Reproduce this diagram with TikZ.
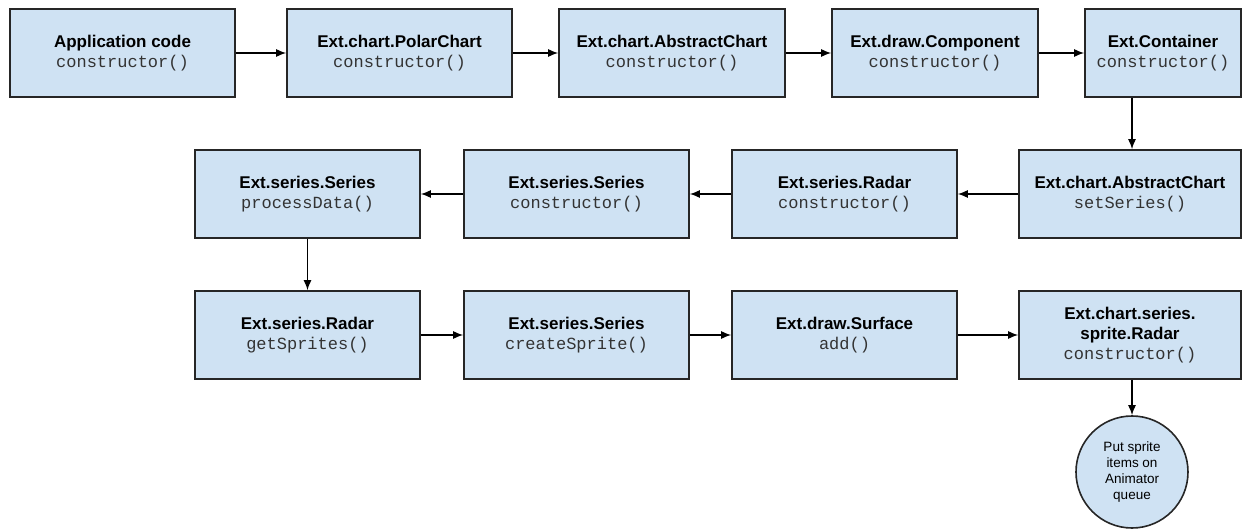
\documentclass[tikz,border=0pt]{standalone}
\usepackage{fontspec}
\setmainfont{Liberation Sans}
\setmonofont{Liberation Mono}
\usetikzlibrary{arrows.meta}
\definecolor{boxfill}{HTML}{CFE2F3}
\definecolor{monotext}{HTML}{333333}
\tikzset{
  box/.style={draw=black!85, line width=1.6pt, fill=boxfill, rectangle,
    minimum height=88pt, inner sep=2pt, align=center,
    font=\fontsize{17}{20}\selectfont\bfseries},
  circ/.style={draw=black!85, line width=1.6pt, fill=boxfill, circle,
    minimum size=112pt, inner sep=0pt, align=center,
    font=\fontsize{13.5}{16}\selectfont},
  arr/.style={line width=1.4pt, -{Latex[length=10pt,width=8pt]}}
}
\newcommand{\mtxt}[1]{{\mdseries\ttfamily\color{monotext}#1}}
\begin{document}
\begin{tikzpicture}[x=1pt,y=-1pt]
\useasboundingbox (0,0) rectangle (1243,529);
% row 1
\node[box, minimum width=225pt] (b1) at (122.5,53) {Application code\\\mtxt{constructor()}};
\node[box, minimum width=225pt] (b2) at (399.5,53) {Ext.chart.PolarChart\\\mtxt{constructor()}};
\node[box, minimum width=226pt] (b3) at (672,53) {Ext.chart.AbstractChart\\\mtxt{constructor()}};
\node[box, minimum width=206pt] (b4) at (935,53) {Ext.draw.Component\\\mtxt{constructor()}};
\node[box, minimum width=156pt] (b5) at (1163,53) {Ext.Container\\\mtxt{constructor()}};
% row 2
\node[box, minimum width=225pt] (c1) at (307.5,194) {Ext.series.Series\\\mtxt{processData()}};
\node[box, minimum width=225pt] (c2) at (576.5,194) {Ext.series.Series\\\mtxt{constructor()}};
\node[box, minimum width=225pt] (c3) at (844.5,194) {Ext.series.Radar\\\mtxt{constructor()}};
\node[box, minimum width=222pt] (c4) at (1130,194) {Ext.chart.AbstractChart\\\mtxt{setSeries()}};
% row 3
\node[box, minimum width=225pt] (d1) at (307.5,335) {Ext.series.Radar\\\mtxt{getSprites()}};
\node[box, minimum width=225pt] (d2) at (576.5,335) {Ext.series.Series\\\mtxt{createSprite()}};
\node[box, minimum width=225pt] (d3) at (844.5,335) {Ext.draw.Surface\\\mtxt{add()}};
\node[box, minimum width=222pt] (d4) at (1130,335) {Ext.chart.series.\\sprite.Radar\\\mtxt{constructor()}};
% circle
\node[circ] (q) at (1132,472) {Put sprite\\items on\\Animator\\queue};
% arrows
\draw[arr] (b1) -- (b2);
\draw[arr] (b2) -- (b3);
\draw[arr] (b3) -- (b4);
\draw[arr] (b4) -- (b5);
\draw[arr] (b5.south -| q) -- (c4.north -| q);
\draw[arr] (c4) -- (c3);
\draw[arr] (c3) -- (c2);
\draw[arr] (c2) -- (c1);
\draw[arr] (c1) -- (d1);
\draw[arr] (d1) -- (d2);
\draw[arr] (d2) -- (d3);
\draw[arr] (d3) -- (d4);
\draw[arr] (d4.south -| q) -- (q);
\end{tikzpicture}
\end{document}
